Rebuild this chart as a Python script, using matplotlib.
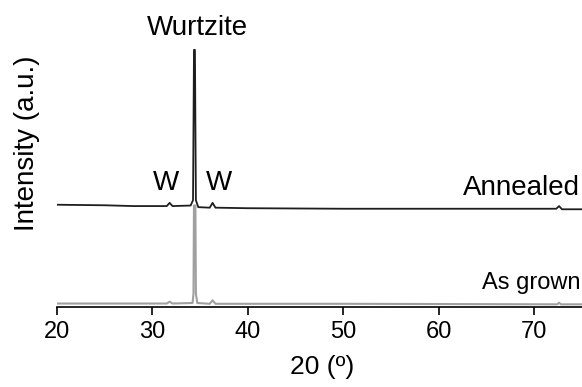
import matplotlib
matplotlib.use("Agg")
from matplotlib import pyplot as plt

# XRD patterns, 2theta in degrees, intensity in arbitrary (stacked) units
annealed_x = [20, 25, 28, 31.5, 31.8, 32.1, 34.0, 34.25, 34.35, 34.45, 34.55, 34.8, 36.0, 36.3, 36.6, 40, 50, 60, 72.3, 72.6, 72.9, 75]
annealed_y = [0.383, 0.381, 0.378, 0.378, 0.390, 0.378, 0.380, 0.400, 0.963, 0.963, 0.400, 0.374, 0.372, 0.390, 0.372, 0.370, 0.368, 0.368, 0.368, 0.378, 0.366, 0.366]

grown_x = [20, 31.5, 31.8, 32.1, 34.2, 34.3, 34.35, 34.5, 34.55, 34.7, 36.0, 36.3, 36.6, 50, 72.4, 72.6, 72.8, 75]
grown_y = [0.013, 0.013, 0.020, 0.013, 0.015, 0.05, 0.380, 0.380, 0.05, 0.015, 0.012, 0.025, 0.012, 0.012, 0.010, 0.016, 0.010, 0.010]

xticks = [20, 30, 40, 50, 60, 70]

plt.rcParams['font.family'] = ['Liberation Sans', 'DejaVu Sans']

fig = plt.figure(figsize=(5.82, 3.87), dpi=100)
ax = fig.add_axes([57/582, 1 - 307/387, 1 - 57/582, 267/387])

ax.plot(grown_x, grown_y, color="#a0a0a0", lw=1.5, solid_joinstyle="round")
ax.plot(annealed_x, annealed_y, color="#1e1e1e", lw=1.3, solid_joinstyle="round")

ax.set_xlim(20, 75)
ax.set_ylim(0, 1)
ax.set_xticks(xticks)
ax.tick_params(axis="x", labelsize=17, length=6, width=1.2, direction="out", pad=4)
ax.set_yticks([])
for s in ["left", "right", "top"]:
    ax.spines[s].set_visible(False)
ax.spines["bottom"].set_linewidth(1.2)

fig.text(197/582, 1 - 28/387, "Wurtzite", fontsize=20, ha="center", va="center")
fig.text(166/582, 1 - 183/387, "W", fontsize=20, ha="center", va="center")
fig.text(219/582, 1 - 183/387, "W", fontsize=20, ha="center", va="center")
fig.text(580/582, 1 - 188/387, "Annealed", fontsize=20, ha="right", va="center")
fig.text(580/582, 1 - 283/387, "As grown", fontsize=17, ha="right", va="center")
fig.text(27/582, 1 - 143/387, "Intensity (a.u.)", fontsize=20, rotation=90, ha="center", va="center")
fig.text(322/582, 1 - 367/387, "20 (º)", fontsize=19, ha="center", va="center")

fig.savefig("out.png", dpi=100)
